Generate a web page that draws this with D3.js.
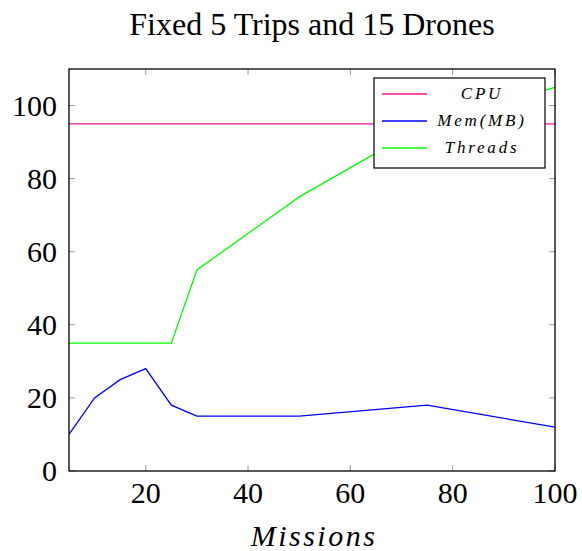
<!DOCTYPE html>
<html><head><meta charset="utf-8">
<script src="https://cdn.jsdelivr.net/npm/d3@7"></script>
<style>body{margin:0;background:#fff;}</style>
</head><body><svg id="c" width="582" height="551"></svg>
<script>
const missions = [5, 10, 15, 20, 25, 30, 50, 75, 100];
const cpu = [95, 95, 95, 95, 95, 95, 95, 95, 95];
const mem = [10, 20, 25, 28, 18, 15, 15, 18, 12];
const threadsX = [5, 25, 30, 50, 75, 100];
const threads = [35, 35, 55, 75, 95, 105];
const xTicks = [20, 40, 60, 80, 100];
const yTicks = [0, 20, 40, 60, 80, 100];
const seriesNames = ["CPU", "Mem(MB)", "Threads"];
const colors = ["#ff1493", "#0000ff", "#00ff00"];

const svg = d3.select("#c");
const L = 69, R = 555, T = 69, B = 471;
const x = d3.scaleLinear().domain([5, 100]).range([L, R]);
const y = d3.scaleLinear().domain([0, 110]).range([B, T]);
const serif = "'Liberation Serif','Times New Roman',serif";

svg.append("text").attr("x", 312).attr("y", 35).attr("text-anchor", "middle")
  .attr("font-family", serif).attr("font-size", 32).text("Fixed 5 Trips and 15 Drones");

const g = svg.append("g");
const tk = 6;
xTicks.forEach(v => {
  g.append("line").attr("x1", x(v)).attr("x2", x(v)).attr("y1", B).attr("y2", B - tk).attr("stroke", "#999");
  g.append("line").attr("x1", x(v)).attr("x2", x(v)).attr("y1", T).attr("y2", T + tk).attr("stroke", "#999");
});
yTicks.forEach(v => {
  g.append("line").attr("y1", y(v)).attr("y2", y(v)).attr("x1", L).attr("x2", L + tk).attr("stroke", "#999");
  g.append("line").attr("y1", y(v)).attr("y2", y(v)).attr("x1", R).attr("x2", R - tk).attr("stroke", "#999");
});

const line = d3.line().x(d => x(d[0])).y(d => y(d[1]));
svg.append("clipPath").attr("id", "pc").append("rect")
  .attr("x", L).attr("y", T).attr("width", R - L).attr("height", B - T);
const data = [
  missions.map((m, i) => [m, cpu[i]]),
  missions.map((m, i) => [m, mem[i]]),
  threadsX.map((m, i) => [m, threads[i]])
];
data.forEach((d, i) => {
  svg.append("path").attr("d", line(d)).attr("fill", "none").attr("stroke", colors[i])
    .attr("stroke-width", 1.3).attr("clip-path", "url(#pc)");
});

svg.append("rect").attr("x", L).attr("y", T).attr("width", R - L).attr("height", B - T)
  .attr("fill", "none").attr("stroke", "#000").attr("stroke-width", 1.3);

xTicks.forEach(v => {
  svg.append("text").attr("x", x(v)).attr("y", 503).attr("text-anchor", "middle")
    .attr("font-family", serif).attr("font-size", 30).text(v);
});
yTicks.forEach(v => {
  svg.append("text").attr("x", 57).attr("y", y(v) + 10).attr("text-anchor", "end")
    .attr("font-family", serif).attr("font-size", 30).text(v);
});
svg.append("text").attr("x", 314).attr("y", 546).attr("text-anchor", "middle")
  .attr("font-family", serif).attr("font-style", "italic").attr("font-size", 30)
  .attr("letter-spacing", 2.5).text("Missions");

const lg = svg.append("g");
lg.append("rect").attr("x", 374).attr("y", 78).attr("width", 171).attr("height", 90)
  .attr("fill", "#fff").attr("stroke", "#000").attr("stroke-width", 1.2);
seriesNames.forEach((n, i) => {
  const yy = 94 + i * 27;
  lg.append("line").attr("x1", 382).attr("x2", 427).attr("y1", yy).attr("y2", yy)
    .attr("stroke", colors[i]).attr("stroke-width", 1.3);
  lg.append("text").attr("x", 482).attr("y", yy + 5).attr("text-anchor", "middle")
    .attr("font-family", serif).attr("font-style", "italic").attr("font-size", 17)
    .attr("letter-spacing", 2.8).text(n);
});
</script></body></html>
